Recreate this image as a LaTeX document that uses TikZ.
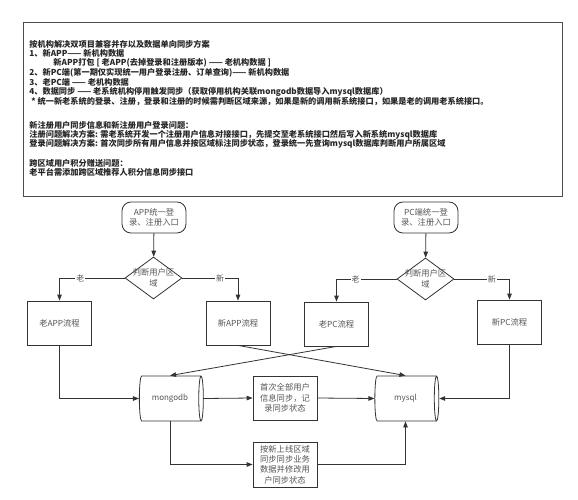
\documentclass[tikz,border=0pt]{standalone}
\usepackage{fontspec}
\setmainfont{Noto Sans CJK SC}
\usetikzlibrary{shapes.geometric,arrows.meta}
\definecolor{lnc}{HTML}{333333}
\definecolor{txc}{HTML}{555555}

\begin{document}
\begin{tikzpicture}[x=1pt,y=-1pt,>={Triangle[length=6pt,width=4.5pt]},color=lnc,line width=0.8pt,
    note/.style={anchor=west,inner sep=0pt,font=\fontsize{8.2}{10}\selectfont\bfseries,text=black!85},
    proc/.style={draw,fill=white,minimum width=64pt,minimum height=44pt,inner sep=1pt,align=center,
        font=\fontsize{8.3}{10.4}\selectfont,text=txc},
    start/.style={proc,rounded corners=9pt,minimum height=31pt,font=\fontsize{8.3}{10}\selectfont},
    decide/.style={draw,diamond,minimum width=57pt,minimum height=42pt,inner sep=0pt},
    dectext/.style={align=center,inner sep=0pt,font=\fontsize{8.3}{11}\selectfont,text=txc},
    db/.style={draw,fill=white,cylinder,aspect=0.55,minimum width=45pt,minimum height=64pt,inner sep=0pt,
        font=\fontsize{8}{9}\selectfont,text=txc},
    tag/.style={fill=white,inner sep=1pt,font=\fontsize{8}{9}\selectfont,text=txc}]
        \useasboundingbox (0,0) rectangle (578,500);
        % plan text
        \draw [line width=1pt,color=black!70] (23,23) rectangle (562,196);
        \node [note] (l1) at (29,44) {按机构解决双项目兼容并存以及数据单向同步方案};
        \node [note] (l2) at (29,53.5) {1、新APP—— 新机构数据};
        \node [note] (l3) at (53,63) {新APP打包 [ 老APP(去掉登录和注册版本) —— 老机构数据 ]};
        \node [note] (l4) at (29,73) {2、新PC端(第一期仅实现统一用户登录注册、订单查询)—— 新机构数据};
        \node [note] (l5) at (29,82.5) {3、老PC端 —— 老机构数据};
        \node [note] (l6) at (29,92) {4、数据同步 —— 老系统机构停用触发同步（获取停用机构关联mongodb数据导入mysql数据库）};
        \node [note] (l7) at (31,101.5) {* 统一新老系统的登录、注册，登录和注册的时候需判断区域来源，如果是新的调用新系统接口，如果是老的调用老系统接口。};
        \node [note] (l8) at (29,125) {新注册用户同步信息和新注册用户登录问题：};
        \node [note] (l9) at (29,135) {注册问题解决方案: 需老系统开发一个注册用户信息对接接口，先提交至老系统接口然后写入新系统mysql数据库};
        \node [note] (l10) at (29,144) {登录问题解决方案: 首次同步所有用户信息并按区域标注同步状态，登录统一先查询mysql数据库判断用户所属区域};
        \node [note] (l11) at (29,163) {跨区域用户积分赠送问题：};
        \node [note] (l12) at (29,172) {老平台需添加跨区域推荐人积分信息同步接口};
        % APP side
        \node [start] (app) at (154,217.5) {APP统一登\\录、注册入口};
        \node [decide,label={[dectext]center:判断用户区\\域}] (chkapp) at (153.5,278) {};
        \node [proc] (oldapp) at (59.5,323) {老APP流程};
        \node [proc] (newapp) at (238,323) {新APP流程};
        % PC side
        \node [start] (pc) at (426,217.5) {PC端统一登\\录、注册入口};
        \node [decide,label={[dectext]center:判断用户区\\域}] (chkpc) at (425.5,279) {};
        \node [proc] (oldpc) at (336.5,324) {老PC流程};
        \node [proc] (newpc) at (509.5,322) {新PC流程};
        % databases and sync
        \node [db] (mongo) at (170,398.5) {mongodb};
        \node [db] (mysql) at (405.5,398.5) {mysql};
        \node [proc] (firstsync) at (285,398) {首次全部用户\\信息同步，记\\录同步状态};
        \node [proc,minimum height=45pt] (areasync) at (285,464.5) {按新上线区域\\同步同步业务\\数据并修改用\\户同步状态};
        \draw [->] (app) -- (chkapp);
        \draw [->] (chkapp.west) -| node [tag,pos=.34] {老} (oldapp.north);
        \draw [->] (chkapp.east) -| node [tag,pos=.34] {新} (newapp.north);
        \draw [->] (pc) -- (chkpc);
        \draw [->] (chkpc.west) -| node [tag,pos=.34] {老} (oldpc.north);
        \draw [->] (chkpc.east) -| node [tag,pos=.34] {新} (newpc.north);
        \draw [->] (oldapp.south) |- (mongo.west);
        \draw [->] (newapp.south) -- (mysql.north);
        \draw [->] (oldpc.south) -- (mongo.north);
        \draw [->] (newpc.south) |- (mysql.east);
        \draw [->] (mongo.east) -- (firstsync.west);
        \draw [->] (firstsync.east) -- (mysql.west);
        \draw [->] (mongo.south) |- (areasync.west);
        \draw [->] (areasync.east) -| (mysql.south);
    \end{tikzpicture}
\end{document}
